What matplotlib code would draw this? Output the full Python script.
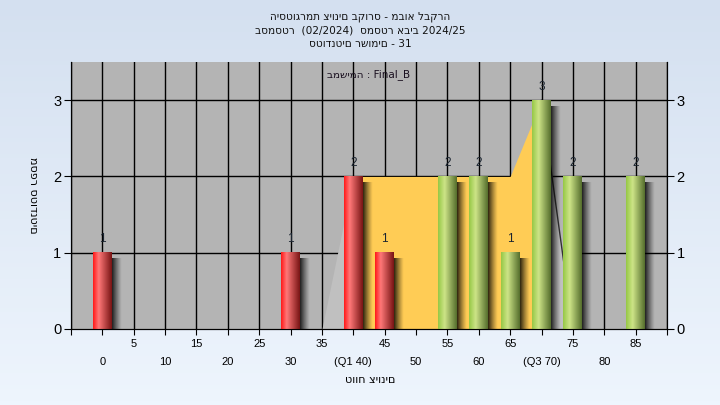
import numpy as np
import matplotlib
matplotlib.use("Agg")
import matplotlib.pyplot as plt
from matplotlib.transforms import blended_transform_factory

plt.rcParams["font.family"] = ["Liberation Sans", "DejaVu Sans"]
HEB = ["DejaVu Sans"]

# Datos del histograma
grades = [0, 30, 40, 45, 55, 60, 65, 70, 75, 85]
counts = [1, 1, 2, 1, 2, 2, 1, 3, 2, 2]
fail_limit = 50  # bajo este valor las barras son rojas

# Curva de area (gris fuera de Q1..Q3, amarillo dentro)
area_low_x = [35, 40]
area_low_y = [0, 2]
area_mid_x = [40, 45, 50, 55, 60, 65, 70]
area_mid_y = [2, 2, 2, 2, 2, 2, 3]
area_high_x = [70, 75]
area_high_y = [3, 0]

top_ticks = [5, 15, 25, 35, 45, 55, 65, 75, 85]
bottom_ticks = [0, 10, 20, 30, 40, 50, 60, 70, 80]
bottom_labels = ["0", "10", "20", "30", "(Q1 40)", "50", "60", "(Q3 70)", "80"]

title_lines = ["היסטוגרמת ציונים בקורס - מבוא לבקרה",
               "בסמסטר  (02/2024)  סמסטר אביב 2024/25",
               "סטודנטים רשומים - 31"]
task_text = "במשימה : Final_B"
x_title = "טווח ציונים"
y_title = "מספר סטודנטים"


def gradient(c_left, c_mid, c_right, n=64, mid=0.3):
    t = np.linspace(0, 1, n)
    cols = np.zeros((n, 3))
    for i in range(3):
        cols[:, i] = np.interp(t, [0, mid, 1], [c_left[i], c_mid[i], c_right[i]])
    return cols[np.newaxis, :, :] / 255.0


red_grad = gradient((255, 25, 25), (255, 120, 120), (120, 20, 20))
green_grad = gradient((150, 200, 70), (205, 228, 135), (85, 110, 45), mid=0.35)

fig = plt.figure(figsize=(7.2, 4.05), dpi=100)

# Fondo con degradado
bg = fig.add_axes([0, 0, 1, 1], zorder=-10)
top_c = np.array([212, 224, 240]) / 255.0
bot_c = np.array([238, 245, 253]) / 255.0
tt = np.linspace(0, 1, 100)[:, None]
bg_img = (top_c * (1 - tt) + bot_c * tt)[:, np.newaxis, :]
bg.imshow(bg_img, aspect="auto", extent=[0, 1, 0, 1])
bg.axis("off")

ax = fig.add_axes([71 / 720, 76 / 405, 596 / 720, 267 / 405])
ax.set_facecolor("#b4b4b4")

# Rejilla
for gx in range(-5, 95, 5):
    ax.axvline(gx, color="black", lw=1, zorder=1)
for gy in [1, 2, 3]:
    ax.axhline(gy, color="black", lw=1, zorder=1)

# Area
ax.fill_between(area_low_x, 0, area_low_y, color="#c0c0c0", lw=0, zorder=2)
ax.fill_between(area_mid_x, 0, area_mid_y, color="#ffcc55", lw=0, zorder=2)
ax.fill_between(area_high_x, 0, area_high_y, color="#c0c0c0", lw=0, zorder=2)
ax.plot(area_high_x, area_high_y, color="#333333", lw=1, zorder=2.5)

# Barras con degradado y sombra
bw = 3.0
shadow = np.zeros((1, 32, 4))
shadow[..., 3] = np.linspace(0.85, 0, 32) ** 1.2
for g, c in zip(grades, counts):
    ax.imshow(shadow, aspect="auto", extent=[g + bw / 2, g + bw / 2 + 1.5, -0.06, c - 0.08],
              zorder=2.8, interpolation="bilinear")
    img = red_grad if g < fail_limit else green_grad
    ax.imshow(img, aspect="auto", extent=[g - bw / 2, g + bw / 2, 0, c],
              zorder=3, interpolation="bilinear")
    ax.text(g, c + 0.1, str(c), ha="center", va="bottom", fontsize=8.5,
            color="#1a2430", zorder=4)

ax.set_xlim(-5, 90)
ax.set_ylim(0, 3.5)

# Ejes
ax.set_xticks(range(-5, 95, 5))
ax.set_xticklabels([])
ax.tick_params(axis="x", direction="out", length=4, color="black")
ax.set_yticks([0, 1, 2, 3])
ax.tick_params(axis="y", direction="out", length=5, labelsize=10.5, pad=2)
ax.spines["top"].set_visible(False)

ax2 = ax.twinx()
ax2.set_ylim(0, 3.5)
ax2.set_yticks([0, 1, 2, 3])
ax2.tick_params(axis="y", direction="out", length=5, labelsize=10.5, pad=2)
ax2.spines["top"].set_visible(False)

tr = blended_transform_factory(ax.transData, ax.transAxes)
for v in top_ticks:
    ax.text(v, -0.056, str(v), transform=tr, ha="center", va="center", fontsize=8)
for v, lab in zip(bottom_ticks, bottom_labels):
    ax.text(v, -0.124, lab, transform=tr, ha="center", va="center", fontsize=8)

fig.text(370 / 720, 1 - 380 / 405, x_title, ha="center", va="center", fontsize=8,
         family=HEB)
fig.text(33 / 720, 1 - 195 / 405, y_title, rotation=270, ha="center", va="center",
         fontsize=8, family=HEB)

for i, line in enumerate(title_lines):
    fig.text(360 / 720, 1 - (17 + 13.5 * i) / 405, line, ha="center", va="center",
             fontsize=7.6, color="#111111", family=HEB)

ax.text(0.5, 0.953, task_text, transform=ax.transAxes, ha="center", va="center",
        fontsize=7.5, color="#1a1020", zorder=5, family=HEB)

fig.savefig("out.png", dpi=100)
